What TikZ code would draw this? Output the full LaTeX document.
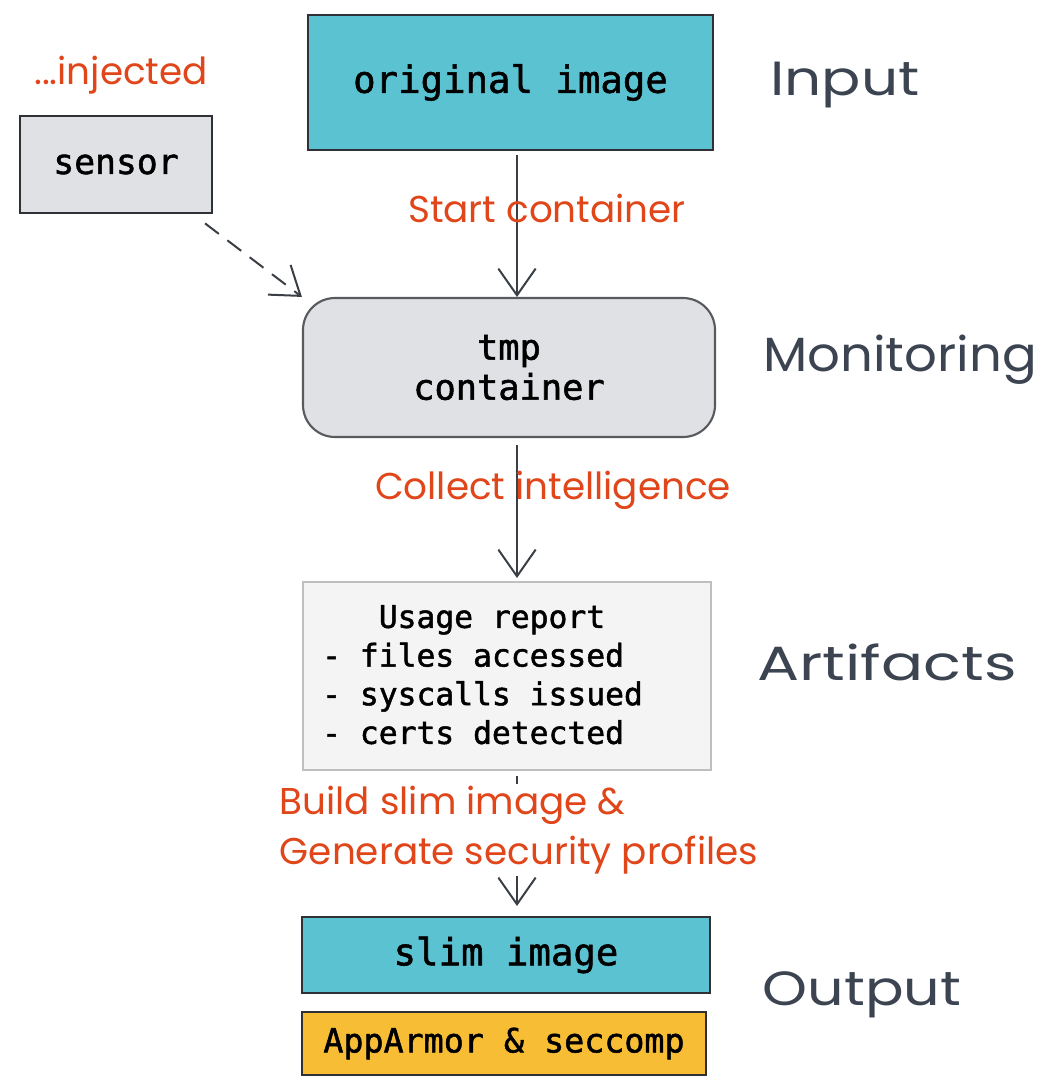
\documentclass[tikz,border=0pt]{standalone}
\usepackage{fontspec}
\setmainfont{Poppins}
\newfontfamily\codefont{DejaVu Sans Mono}[FakeBold=1.5]
\usetikzlibrary{arrows.meta}
\definecolor{teal}{HTML}{5BC2D2}
\definecolor{boxgray}{HTML}{DFE1E5}
\definecolor{rptgray}{HTML}{F4F4F4}
\definecolor{amber}{HTML}{F7BD35}
\definecolor{redlab}{HTML}{E0461A}
\definecolor{slate}{HTML}{3B4450}
\definecolor{ink}{HTML}{2E3136}
\definecolor{arrowink}{HTML}{3A3F45}
\tikzset{
  codebox/.style={draw=ink, line width=2pt, font=\codefont, inner sep=0pt},
  hand/.style={text=redlab, font=\fontsize{28}{37}\selectfont},
  stage/.style={text=slate, font=\fontsize{36}{40}\selectfont},
  flow/.style={draw=arrowink, line width=1.5pt, -{Straight Barb[length=20pt,width=28pt,line width=1.5pt]}},
}
\begin{document}
\begin{tikzpicture}[x=0.75pt,y=-0.75pt]
\useasboundingbox (0,0) rectangle (1043,1077);
% boxes
\node[codebox, fill=teal, minimum width=303.75pt, minimum height=101.25pt,
      font=\codefont\fontsize{28}{34}\selectfont] (orig) at (510.5,82.5) {\raisebox{-3pt}{original image}};
\node[codebox, line width=1.6pt, fill=boxgray, minimum width=144pt, minimum height=72.75pt,
      font=\codefont\fontsize{26}{32}\selectfont] (sensor) at (116,164.5) {sensor};
\node[codebox, line width=1.6pt, draw=ink!80, fill=boxgray, rounded corners=24pt, minimum width=309pt, minimum height=104.25pt,
      align=center, font=\codefont\fontsize{26.5}{30}\selectfont] (tmp) at (509,367.5) {tmp\\container};
\node[codebox, line width=1.6pt, draw=black!25, fill=rptgray, minimum width=306pt, minimum height=141pt] (report) at (507,676) {};
\node[anchor=west, inner sep=0pt, align=left, font=\codefont\fontsize{23.5}{29}\selectfont] (reporttext)
      at ([xshift=15pt,yshift=1pt]report.west)
      {\hspace*{3\fontcharwd\font`0}Usage report\\- files accessed\\- syscalls issued\\- certs detected};
\node[codebox, fill=teal, minimum width=306pt, minimum height=57pt,
      font=\codefont\fontsize{28}{34}\selectfont] (slim) at (506,955) {slim image};
\node[codebox, fill=amber, minimum width=303pt, minimum height=47.25pt,
      font=\codefont\fontsize{25}{30}\selectfont] (prof) at (504,1043.5) {AppArmor \& seccomp};
% connectors
\draw[flow] (517,155) coordinate (a1) -- (517,297) coordinate (a2);
\draw[flow, dash pattern=on 13pt off 8pt] ([shift={(-6pt,-7pt)}]sensor.south east) -- (tmp.north west);
\draw[flow] (517,445) coordinate (b1) -- (517,578) coordinate (b2);
\draw[flow] (517,776) coordinate (c1) -- (517,906) coordinate (c2);
% labels
\node[hand] (inj) at (121,75) {...injected};
\node[hand] (l1) at (547,208) {Start container};
\node[hand] (l2) at (553,490) {Collect intelligence};
\node[hand, fill=white, align=left, inner sep=2pt] (l3) at (519,830)
      {Build slim image \&\\Generate security profiles};
\node[stage] (s1) at (845,85) {\scalebox{1.21}[1]{Input}};
\node[stage] (s2) at (900,360) {\scalebox{1.07}[1]{Monitoring}};
\node[stage] (s3) at (887,662) {\scalebox{1.3}[1]{Artifacts}};
\node[stage] (s4) at (862,995) {\scalebox{1.19}[1]{Output}};
\end{tikzpicture}
\end{document}
